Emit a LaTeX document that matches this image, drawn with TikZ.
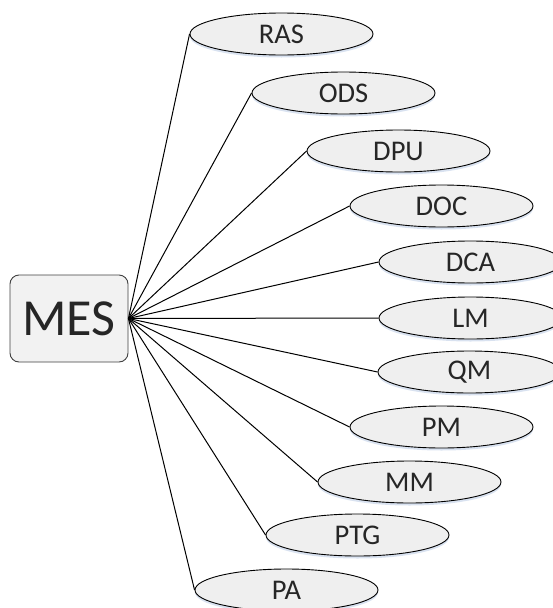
\documentclass[tikz,border=0pt]{standalone}
\usepackage{fontspec}
\setmainfont{Carlito}
\usetikzlibrary{shapes.geometric,shadows}
\definecolor{boxfill}{HTML}{F2F2F2}
\definecolor{ellfill}{HTML}{EFEFEF}
\definecolor{txt}{HTML}{262626}
\definecolor{shade}{HTML}{C9D6EA}
\tikzset{
  hub/.style={draw=black!75, fill=boxfill, rounded corners=9pt, line width=0.9pt,
    minimum width=118pt, minimum height=87pt, inner sep=0pt,
    font=\fontsize{52}{52}\selectfont, text=txt},
  leaf/.style={ellipse, draw=black, fill=ellfill, line width=0.9pt,
    minimum width=183pt, minimum height=42pt, inner sep=0pt,
    font=\fontsize{28.5}{28.5}\selectfont, text=txt,
    drop shadow={shadow xshift=0pt, shadow yshift=-2.5pt, fill=shade, opacity=0.7}},
  spoke/.style={draw=black, line width=1pt}
}
\begin{document}
\begin{tikzpicture}[x=1pt,y=-1pt]
  \useasboundingbox (0,0) rectangle (552,608);
  \node[hub] (mes) at (69,318.5) {MES};
  \node[leaf] (ras) at (281.5,34) {RAS};
  \node[leaf] (ods) at (343.5,93) {ODS};
  \node[leaf] (dpu) at (398.5,151) {DPU};
  \node[leaf] (doc) at (441.5,206) {DOC};
  \node[leaf] (dca) at (470.5,262) {DCA};
  \node[leaf] (lm)  at (470.5,318) {LM};
  \node[leaf] (qm)  at (469.5,372) {QM};
  \node[leaf] (pm)  at (441.5,427) {PM};
  \node[leaf] (mm)  at (409.5,482) {MM};
  \node[leaf] (ptg) at (357.5,535) {PTG};
  \node[leaf] (pa)  at (286.5,590) {PA};
  \foreach \n in {ras,ods,dpu,doc,dca,lm,qm,pm,mm,ptg,pa}
    \draw[spoke] (mes.east) -- (\n.west);
\end{tikzpicture}
\end{document}
